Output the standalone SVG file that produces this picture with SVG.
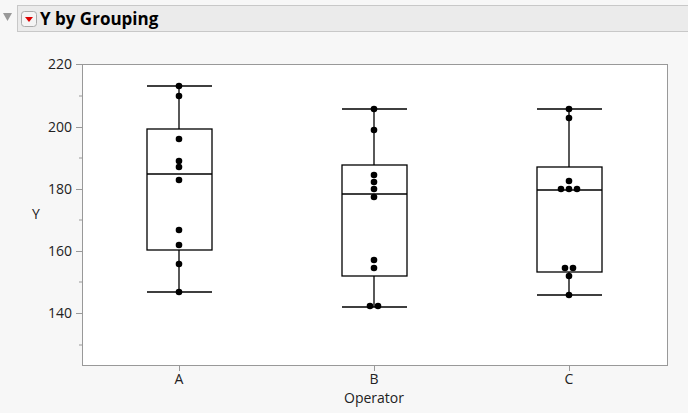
<svg xmlns="http://www.w3.org/2000/svg" width="688" height="413" viewBox="0 0 688 413">
<style>
text{font-family:"Segoe UI","Open Sans","Liberation Sans",sans-serif;fill:#222}
.t{font-size:14px}
.box{fill:none;stroke:#000;stroke-width:1.3}
.ax{stroke:#999;stroke-width:1}
circle{fill:#000}
</style>
<rect width="688" height="413" fill="#f7f7f7"/>
<g id="header">
<path d="M3 13 L12 13 L7.5 21 Z" fill="#999"/>
<rect x="17.5" y="5.5" width="675" height="26" fill="#ebebeb" stroke="#c8c8c8"/>
<rect x="21.5" y="11.5" width="15" height="15" rx="3" fill="#f4f4f4" stroke="#aaa"/>
<path d="M25 17 L33 17 L29 22 Z" fill="#d00"/>
<text x="40" y="25" font-size="17" font-weight="bold" style="fill:#000">Y by Grouping</text>
</g>
<g id="axes">
<rect x="82.5" y="64.5" width="585" height="301" fill="#fff" stroke="#999"/>
<g class="ax">
<line x1="76" y1="64.5" x2="82" y2="64.5"/><line x1="76" y1="127.5" x2="82" y2="127.5"/><line x1="76" y1="189.5" x2="82" y2="189.5"/><line x1="76" y1="251.5" x2="82" y2="251.5"/><line x1="76" y1="313.5" x2="82" y2="313.5"/>
<line x1="79" y1="96" x2="82" y2="96"/><line x1="79" y1="158" x2="82" y2="158"/><line x1="79" y1="220" x2="82" y2="220"/><line x1="79" y1="282" x2="82" y2="282"/><line x1="79" y1="345" x2="82" y2="345"/>
<line x1="179.5" y1="366" x2="179.5" y2="371"/><line x1="374.5" y1="366" x2="374.5" y2="371"/><line x1="569.5" y1="366" x2="569.5" y2="371"/>
</g>
<g class="t" text-anchor="end">
<text x="72" y="69">220</text><text x="72" y="132">200</text><text x="72" y="194">180</text><text x="72" y="256">160</text><text x="72" y="318">140</text>
</g>
<g class="t" text-anchor="middle">
<text x="179" y="384">A</text><text x="374" y="384">B</text><text x="569" y="384">C</text>
<text x="374" y="403">Operator</text>
<text x="36" y="219">Y</text>
</g>
</g>
<g id="boxA">
<rect class="box" x="147" y="129" width="65" height="121"/>
<path class="box" d="M147 174H212M179 129V86M147 86H212M179 250V292M147 292H212"/>
<circle cx="179" cy="86" r="3.3"/><circle cx="179" cy="96" r="3.3"/><circle cx="179" cy="139" r="3.3"/><circle cx="179" cy="161" r="3.3"/><circle cx="179" cy="167" r="3.3"/><circle cx="179" cy="180" r="3.3"/><circle cx="179" cy="230" r="3.3"/><circle cx="179" cy="245" r="3.3"/><circle cx="179" cy="264" r="3.3"/><circle cx="179" cy="292" r="3.3"/>
</g>
<g id="boxB">
<rect class="box" x="342" y="165" width="65" height="111"/>
<path class="box" d="M342 194H407M374 165V109M342 109H407M374 276V307M342 307H407"/>
<circle cx="374" cy="109" r="3.3"/><circle cx="374" cy="130" r="3.3"/><circle cx="374" cy="175" r="3.3"/><circle cx="374" cy="182" r="3.3"/><circle cx="374" cy="189" r="3.3"/><circle cx="374" cy="197" r="3.3"/><circle cx="374" cy="260" r="3.3"/><circle cx="374" cy="268" r="3.3"/><circle cx="370" cy="306" r="3.3"/><circle cx="378" cy="306" r="3.3"/>
</g>
<g id="boxC">
<rect class="box" x="537" y="167" width="65" height="105"/>
<path class="box" d="M537 190H602M569 167V109M537 109H602M569 272V295M537 295H602"/>
<circle cx="569" cy="109" r="3.3"/><circle cx="569" cy="118" r="3.3"/><circle cx="569" cy="181" r="3.3"/><circle cx="561" cy="189" r="3.3"/><circle cx="569" cy="189" r="3.3"/><circle cx="577" cy="189" r="3.3"/><circle cx="565" cy="268" r="3.3"/><circle cx="573" cy="268" r="3.3"/><circle cx="569" cy="276" r="3.3"/><circle cx="569" cy="295" r="3.3"/>
</g>
</svg>
